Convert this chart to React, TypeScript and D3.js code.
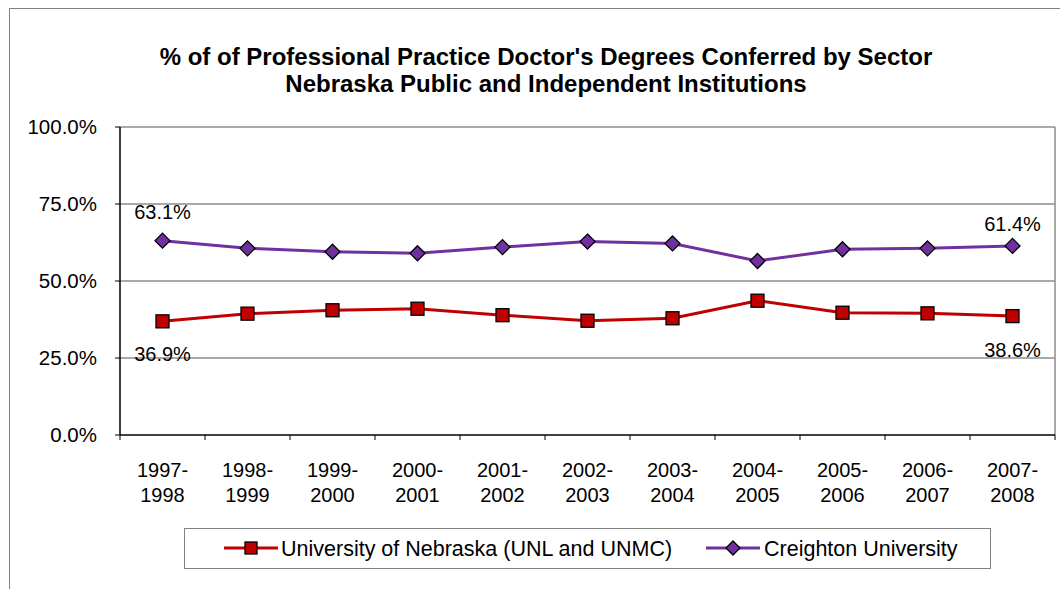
import * as d3 from "d3";

const periods = [
  ["1997-", "1998"], ["1998-", "1999"], ["1999-", "2000"], ["2000-", "2001"],
  ["2001-", "2002"], ["2002-", "2003"], ["2003-", "2004"], ["2004-", "2005"],
  ["2005-", "2006"], ["2006-", "2007"], ["2007-", "2008"],
];
const unl = [36.9, 39.4, 40.5, 41.0, 38.9, 37.1, 37.9, 43.6, 39.7, 39.5, 38.6];
const creighton = [63.1, 60.6, 59.5, 59.0, 61.0, 62.8, 62.2, 56.5, 60.3, 60.6, 61.4];
const yTicks = [0, 25, 50, 75, 100];

const W = 1060;
const H = 589;
const font = "Arial, 'Liberation Sans', sans-serif";
const RED = "#C00000";
const PURPLE = "#7030A0";

const App = () => {
  const left = 120, right = 1055, top = 127, bottom = 435;
  const x = d3.scaleBand<number>().domain(d3.range(periods.length)).range([left, right]);
  const y = d3.scaleLinear().domain([0, 100]).range([bottom, top]);
  const cx = (i: number) => (x(i) || 0) + x.bandwidth() / 2;
  const line = d3.line<number>().x((_, i) => cx(i)).y((d) => y(d));
  const fmt = (v: number) => `${v.toFixed(1)}%`;

  const square = (px: number, py: number, color: string, s = 6.5) => (
    <rect x={px - s} y={py - s} width={s * 2} height={s * 2} fill={color} stroke="#000" strokeWidth={1.3} />
  );
  const diamond = (px: number, py: number, color: string, s = 7.5) => (
    <path d={`M${px},${py - s}L${px + s},${py}L${px},${py + s}L${px - s},${py}Z`} fill={color} stroke="#000" strokeWidth={1.3} />
  );

  const last = periods.length - 1;

  return (
    <svg width={W} height={H} style={{ position: "absolute", left: 0, top: 0 }} fontFamily={font}>
      <rect width={W} height={H} fill="#fff" />
      {/* outer chart frame */}
      <path d={`M9.5,${H}V8.5H${W}`} fill="none" stroke="#808080" strokeWidth={1} />

      <text x={546} y={65} textAnchor="middle" fontSize={24} fontWeight="bold">
        % of of Professional Practice Doctor's Degrees Conferred by Sector
      </text>
      <text x={546} y={92} textAnchor="middle" fontSize={24} fontWeight="bold">
        Nebraska Public and Independent Institutions
      </text>

      {/* gridlines */}
      {yTicks.filter((t) => t > 0).map((t) => (
        <line key={t} x1={left} x2={right} y1={y(t)} y2={y(t)} stroke="#8c8c8c" strokeWidth={1.5} />
      ))}
      <line x1={right} x2={right} y1={top} y2={bottom} stroke="#8c8c8c" strokeWidth={1.5} />

      {/* axes */}
      <line x1={left} x2={left} y1={top} y2={bottom} stroke="#000" strokeWidth={1.5} />
      <line x1={left} x2={right} y1={bottom} y2={bottom} stroke="#000" strokeWidth={1.5} />
      {yTicks.map((t) => (
        <g key={t}>
          <line x1={left - 5} x2={left} y1={y(t)} y2={y(t)} stroke="#000" />
          <text x={97} y={y(t)} dy="0.35em" textAnchor="end" fontSize={20.5}>{fmt(t)}</text>
        </g>
      ))}
      {d3.range(periods.length + 1).map((i) => {
        const px = i < periods.length ? x(i) || 0 : right;
        return <line key={i} x1={px} x2={px} y1={bottom} y2={bottom + 5} stroke="#000" />;
      })}
      {periods.map((p, i) => (
        <text key={i} x={cx(i)} textAnchor="middle" fontSize={20}>
          <tspan x={cx(i)} y={477}>{p[0]}</tspan>
          <tspan x={cx(i)} y={502}>{p[1]}</tspan>
        </text>
      ))}

      {/* series */}
      <path d={line(creighton) || ""} fill="none" stroke={PURPLE} strokeWidth={3} />
      <path d={line(unl) || ""} fill="none" stroke={RED} strokeWidth={3} />
      {creighton.map((v, i) => <g key={"c" + i}>{diamond(cx(i), y(v), PURPLE)}</g>)}
      {unl.map((v, i) => <g key={"u" + i}>{square(cx(i), y(v), RED)}</g>)}

      {/* data labels */}
      <text x={cx(0)} y={219} textAnchor="middle" fontSize={20}>{fmt(creighton[0])}</text>
      <text x={cx(0)} y={361} textAnchor="middle" fontSize={20}>{fmt(unl[0])}</text>
      <text x={cx(last)} y={231} textAnchor="middle" fontSize={20}>{fmt(creighton[last])}</text>
      <text x={cx(last)} y={357} textAnchor="middle" fontSize={20}>{fmt(unl[last])}</text>

      {/* legend */}
      <rect x={184.5} y={528.5} width={806} height={40} fill="#fff" stroke="#808080" strokeWidth={1} />
      <line x1={224} x2={278} y1={548} y2={548} stroke={RED} strokeWidth={3} />
      {square(251, 548, RED, 6)}
      <text x={281} y={548} dy="0.35em" fontSize={21.5}>University of Nebraska (UNL and UNMC)</text>
      <line x1={706} x2={760} y1={548} y2={548} stroke={PURPLE} strokeWidth={3} />
      {diamond(733, 548, PURPLE, 7)}
      <text x={764} y={548} dy="0.35em" fontSize={21.5}>Creighton University</text>
    </svg>
  );
};

export default App;
